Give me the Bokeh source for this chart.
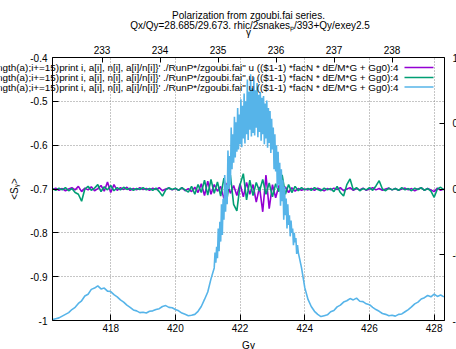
import numpy as np
from bokeh.plotting import figure
from bokeh.models import Range1d, LinearAxis, FixedTicker, NumeralTickFormatter, Label, Grid
from bokeh.embed import file_html
from bokeh.resources import INLINE

# ---------------- data ----------------
G = 1.7928474                       # gamma = (G*gamma) / G
x_lo, x_hi = 416.2, 428.32
y_lo, y_hi = -1.0, -0.4
y2_lo, y2_hi = -1.0, 1.0

# series 1 (purple) and 2 (green): start 416.2, step 0.1
series_start, series_step = 416.2, 0.1
purple = [
    -0.701, -0.698, -0.703, -0.699, -0.704, -0.700, -0.697, -0.702, -0.694, -0.706,
    -0.698, -0.702, -0.695, -0.704, -0.699, -0.692, -0.705, -0.684, -0.708, -0.690,
    -0.703, -0.697, -0.701, -0.696, -0.703, -0.699, -0.702, -0.697, -0.701, -0.699,
    -0.703, -0.698, -0.701, -0.697, -0.704, -0.700, -0.698, -0.702, -0.699, -0.703,
    -0.697, -0.704, -0.699, -0.706, -0.696, -0.708, -0.688, -0.715, -0.682, -0.712,
    -0.690, -0.705, -0.694, -0.722, -0.686, -0.710, -0.692, -0.715, -0.688, -0.718,
    -0.685, -0.712, -0.690, -0.730, -0.695, -0.752, -0.668, -0.745, -0.690, -0.720,
    -0.692, -0.712, -0.695, -0.708, -0.697, -0.705, -0.699, -0.703, -0.700, -0.702,
    -0.699, -0.703, -0.698, -0.701, -0.704, -0.699, -0.702, -0.698, -0.701, -0.697,
    -0.704, -0.700, -0.697, -0.703, -0.699, -0.702, -0.698, -0.703, -0.700, -0.697,
    -0.702, -0.699, -0.703, -0.700, -0.698, -0.702, -0.699, -0.703, -0.700, -0.698,
    -0.702, -0.699, -0.704, -0.700, -0.697, -0.703, -0.699, -0.702, -0.706, -0.698,
    -0.703, -0.700,
]
green = [
    -0.699, -0.703, -0.698, -0.702, -0.697, -0.704, -0.699, -0.708, -0.712, -0.728,
    -0.700, -0.694, -0.703, -0.698, -0.690, -0.706, -0.695, -0.702, -0.692, -0.704,
    -0.697, -0.702, -0.696, -0.701, -0.698, -0.703, -0.699, -0.701, -0.697, -0.702,
    -0.699, -0.703, -0.698, -0.706, -0.716, -0.702, -0.697, -0.701, -0.698, -0.703,
    -0.697, -0.702, -0.707, -0.694, -0.712, -0.690, -0.708, -0.680, -0.714, -0.678,
    -0.710, -0.684, -0.716, -0.675, -0.720, -0.668, -0.735, -0.750, -0.690, -0.665,
    -0.725, -0.680, -0.715, -0.685, -0.705, -0.678, -0.712, -0.686, -0.718, -0.688,
    -0.706, -0.668, -0.712, -0.690, -0.708, -0.694, -0.704, -0.697, -0.702, -0.699,
    -0.703, -0.697, -0.701, -0.704, -0.698, -0.702, -0.699, -0.706, -0.694, -0.708,
    -0.716, -0.690, -0.677, -0.702, -0.697, -0.704, -0.699, -0.702, -0.697, -0.703,
    -0.693, -0.681, -0.700, -0.704, -0.698, -0.702, -0.699, -0.703, -0.697, -0.702,
    -0.699, -0.704, -0.698, -0.701, -0.697, -0.703, -0.699, -0.705, -0.719, -0.700,
    -0.696, -0.702,
]

# series 3 (blue) in three sampled pieces
blue_left_start, blue_left_step = 416.2, 0.1
blue_left = [
    -0.998, -0.996, -0.994, -0.990, -0.986, -0.982, -0.975, -0.970, -0.961, -0.955,
    -0.944, -0.940, -0.929, -0.926, -0.921, -0.928, -0.926, -0.933, -0.934, -0.941,
    -0.946, -0.953, -0.958, -0.965, -0.970, -0.976, -0.978, -0.982, -0.981, -0.983,
    -0.979, -0.978, -0.975, -0.973, -0.968, -0.966, -0.970, -0.971, -0.975, -0.978,
    -0.983, -0.986, -0.989, -0.988, -0.986, -0.979, -0.968, -0.952, -0.935, -0.905,
    -0.880,
]
blue_mid_start, blue_mid_step = 421.225, 0.025
blue_mid = [
    -0.845, -0.868, -0.832, -0.858, -0.790, -0.842, -0.775, -0.820,
    -0.735, -0.805, -0.722, -0.770, -0.668, -0.752, -0.690, -0.735,
    -0.612, -0.700, -0.625, -0.690, -0.560, -0.655, -0.575, -0.640,
    -0.535, -0.628, -0.548, -0.615, -0.515, -0.610, -0.530, -0.598,
    -0.495, -0.605, -0.510, -0.585, -0.482, -0.596, -0.500, -0.575,
    -0.450, -0.588, -0.478, -0.565, -0.438, -0.580, -0.470, -0.572,
    -0.445, -0.578, -0.475, -0.560, -0.458, -0.582, -0.485, -0.570,
    -0.478, -0.590, -0.492, -0.575, -0.488, -0.598, -0.505, -0.585,
    -0.498, -0.606, -0.515, -0.595, -0.522, -0.618, -0.540, -0.610,
    -0.560, -0.655, -0.575, -0.660, -0.600, -0.698, -0.615, -0.690,
    -0.640, -0.738, -0.655, -0.728, -0.680, -0.770, -0.695, -0.760,
    -0.722, -0.790, -0.735, -0.782, -0.760, -0.808, -0.772, -0.800,
    -0.790, -0.828, -0.800, -0.822, -0.812, -0.848, -0.828, -0.845,
]
blue_right_start, blue_right_step = 423.9, 0.1
blue_right = [
    -0.880, -0.925, -0.952, -0.968, -0.979, -0.986, -0.991, -0.989, -0.987, -0.980,
    -0.977, -0.969, -0.965, -0.958, -0.955, -0.950, -0.953, -0.949, -0.956, -0.957,
    -0.962, -0.964, -0.970, -0.975, -0.979, -0.984, -0.986, -0.989, -0.988, -0.990,
    -0.986, -0.985, -0.980, -0.975, -0.969, -0.962, -0.958, -0.951, -0.948, -0.943,
    -0.946, -0.940, -0.945, -0.942, -0.946,
]

x_ticks = [418, 420, 422, 424, 426, 428]
y_ticks = [-1.0, -0.9, -0.8, -0.7, -0.6, -0.5, -0.4]
gamma_ticks = [233, 234, 235, 236, 237, 238]
y2_ticks = [-1.0, -0.5, 0.0, 0.5, 1.0]

title_lines = ["Polarization from zgoubi.fai series.",
               "Qx/Qy=28.685/29.673. rhic/2snakes\u209a/393+Qy/exey2.5"]
x_title, x2_title, y_title = "G\u03b3", "\u03b3", "<S\u1d67>"
legend_label = ("\"< awk '{a[$1]+=$4; n[$1]++} END {for(i=1;i<=length(a);i+=15)print i, a[i], n[i], "
                "a[i]/n[i]}' ./RunP*/zgoubi.fai\" u (($1-1) *facN * dE/M*G + Gg0):4")
colors = ["#9400D3", "#009E73", "#56B4E9"]

# ---------------- layout ----------------
W, H = 456, 349
BOX_L, BOX_R, BOX_T, BOX_B = 52, 444, 57, 320      # plot box in page pixels
FONT = "Liberation Sans"
FS = "10px"

kx = (BOX_R - BOX_L) / (x_hi - x_lo)
ky = (BOX_B - BOX_T) / (y_hi - y_lo)
ky2 = (BOX_B - BOX_T) / (y2_hi - y2_lo)
xr = Range1d(x_lo - BOX_L / kx, x_hi + (W - BOX_R) / kx)
yr = Range1d(y_lo - (H - BOX_B) / ky, y_hi + BOX_T / ky)

def dx(px):
    return xr.start + px / kx

def dy(py):
    return yr.end - py / ky

p = figure(width=W, height=H, x_range=xr, y_range=yr, output_backend="svg",
           toolbar_location=None, title=None, x_axis_location=None, y_axis_location=None,
           min_border=0, min_border_left=0, min_border_right=0, min_border_top=0, min_border_bottom=0)
p.outline_line_color = None
p.background_fill_color = "white"
p.border_fill_color = "white"
p.xgrid.visible = False
p.ygrid.visible = False

p.extra_x_ranges = {"gam": Range1d(xr.start / G, xr.end / G)}
p.extra_y_ranges = {"y2": Range1d(y2_lo - (H - BOX_B) / ky2, y2_hi + BOX_T / ky2)}

common = dict(minor_tick_line_color=None, major_tick_out=0, major_tick_line_color="black",
              axis_line_color="black", axis_line_width=1,
              major_label_text_font=FONT, major_label_text_font_size=FS,
              major_label_text_color="black",
              axis_label_text_font=FONT, axis_label_text_font_size=FS,
              axis_label_text_font_style="normal", axis_label_text_color="black")

bottom = LinearAxis(fixed_location=y_lo, bounds=(x_lo, x_hi), ticker=FixedTicker(ticks=x_ticks),
                    major_tick_in=6, major_label_standoff=3, axis_label=x_title,
                    axis_label_standoff=5, **common)
left = LinearAxis(fixed_location=x_lo, bounds=(y_lo, y_hi), ticker=FixedTicker(ticks=y_ticks),
                  formatter=NumeralTickFormatter(format="0.[0]"),
                  major_tick_in=6, major_label_standoff=5, axis_label=y_title,
                  axis_label_standoff=7, **common)
top = LinearAxis(x_range_name="gam", fixed_location=y_hi, bounds=(x_lo / G, x_hi / G),
                 ticker=FixedTicker(ticks=gamma_ticks), major_tick_in=5, major_label_standoff=4,
                 axis_label=x2_title, axis_label_standoff=5, **common)
right = LinearAxis(y_range_name="y2", fixed_location=x_hi, bounds=(y2_lo, y2_hi),
                   ticker=FixedTicker(ticks=y2_ticks), formatter=NumeralTickFormatter(format="0.[0]"),
                   major_tick_in=5, major_label_standoff=8, **common)
p.add_layout(bottom, "below")
p.add_layout(left, "left")
p.add_layout(top, "above")
p.add_layout(right, "right")

grid_style = dict(grid_line_color="#8c8c8c", grid_line_dash="1 2", grid_line_width=1)
p.add_layout(Grid(dimension=0, ticker=FixedTicker(ticks=x_ticks), bounds=(x_lo, x_hi),
                  cross_bounds=(y_lo, y_hi), **grid_style), "center")
p.add_layout(Grid(dimension=1, ticker=FixedTicker(ticks=y_ticks), bounds=(y_lo, y_hi),
                  cross_bounds=(x_lo, x_hi), **grid_style), "center")

# series
xs = series_start + series_step * np.arange(len(purple))
p.line(xs, purple, line_color=colors[0], line_width=1.6)
p.line(xs, green, line_color=colors[1], line_width=1.6)
bx = np.concatenate([blue_left_start + blue_left_step * np.arange(len(blue_left)),
                     blue_mid_start + blue_mid_step * np.arange(len(blue_mid)),
                     blue_right_start + blue_right_step * np.arange(len(blue_right))])
by = np.array(blue_left + blue_mid + blue_right)
p.line(bx, by, line_color=colors[2], line_width=1.6)

# key (text to the left of the sample, as gnuplot does)
key_rows = [67, 77, 86.5]
for c, ry in zip(colors, key_rows):
    p.segment(x0=[dx(404)], x1=[dx(433)], y0=[dy(ry)], y1=[dy(ry)], line_color=c, line_width=1.6)
    p.add_layout(Label(x=dx(398), y=dy(ry), text=legend_label, text_font=FONT,
                       text_font_size="9.9px", text_align="right", text_baseline="middle",
                       text_color="black"))

# title lines
for t, (cx, cy) in zip(title_lines, [(248, 15), (249.5, 24.5)]):
    p.add_layout(Label(x=dx(cx), y=dy(cy), text=t, text_font=FONT, text_font_size=FS,
                       text_align="center", text_baseline="middle", text_color="black"))

open("out.html", "w").write(file_html(p, INLINE))
